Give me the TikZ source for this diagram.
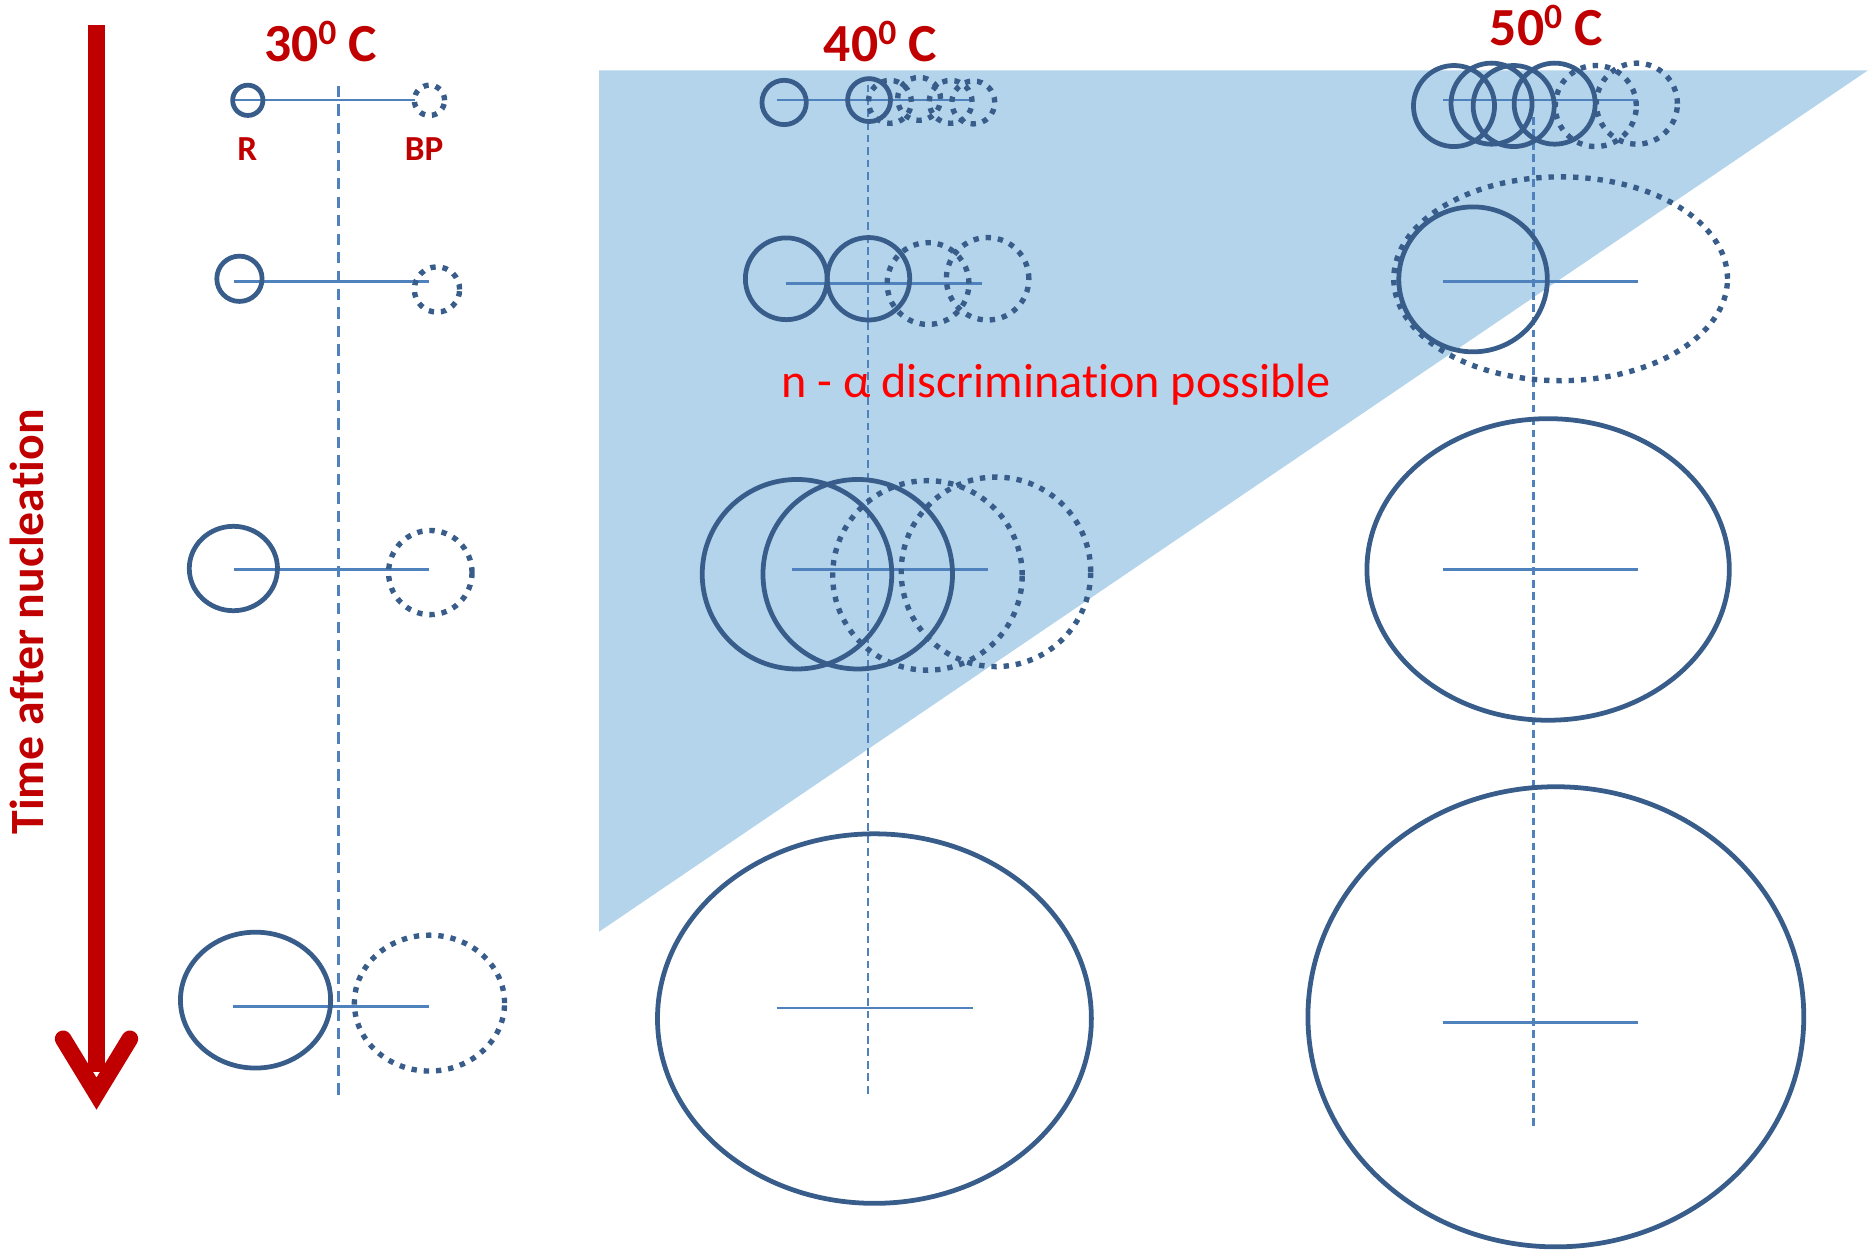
\documentclass[tikz,border=0pt]{standalone}
\usepackage{fontspec}
\setmainfont{Carlito}[Ligatures=NoCommon]
\usetikzlibrary{shapes.geometric}

\definecolor{rojotit}{RGB}{192,0,0}
\definecolor{rojotxt}{RGB}{255,0,0}
\definecolor{azulburb}{RGB}{56,93,138}
\definecolor{azuleje}{RGB}{79,129,189}
\definecolor{celeste}{RGB}{180,212,236}

\newcommand{\supcero}{\raisebox{4pt}{\fontsize{8.5}{9}\selectfont 0}}

\tikzset{
  base/.style={draw=azulburb, line width=0.04cm, inner sep=0pt},
  puntos/.style={line width=0.045cm, dash pattern=on 0.045cm off 0.058cm},
  rburb/.style={base, circle, minimum size=#1},
  bpburb/.style={rburb=#1, puntos},
  relip/.style 2 args={base, ellipse, minimum width=#1, minimum height=#2},
  bpelip/.style 2 args={relip={#1}{#2}, puntos},
  guia/.style={draw=azuleje, line width=0.022cm, dash pattern=on 0.065cm off 0.04cm},
  guia30/.style={guia, dash pattern=on 0.095cm off 0.06cm},
  eje/.style={draw=azuleje, line width=0.022cm},
  tiempo/.style={draw=rojotit, line width=0.15cm},
  tit/.style={text=rojotit, anchor=base, inner sep=0pt, font=\bfseries\fontsize{12.8}{14}\selectfont},
  etq/.style={text=rojotit, anchor=base, inner sep=0pt, font=\bfseries\fontsize{8.4}{10}\selectfont}
}

\begin{document}
\begin{tikzpicture}[x=0.01cm, y=-0.01cm]

        \useasboundingbox (0,0) rectangle (1568,1051);

        % Zona de discriminacion
        \fill[celeste] (503,59) -- (1568,59) -- (503,782) -- cycle;

        % Flecha del tiempo
        \coordinate (flecha-ini) at (81,21);
        \coordinate (flecha-fin) at (81,900);
        \coordinate (ala-i) at (53,872);
        \coordinate (punta) at (81,918);
        \coordinate (ala-d) at (109,872);
        \draw[tiempo] (flecha-ini) -- (flecha-fin);
        \draw[tiempo, line width=0.14cm, line cap=round, line join=miter] (ala-i) -- (punta) -- (ala-d);
        \node[rotate=90, anchor=base, inner sep=0pt, text=rojotit, font=\bfseries\fontsize{11.4}{13}\selectfont] (lbltiempo) at (36.4,522) {Time after nucleation};

        % Titulos
        \node[tit] (t30) at (269,51.8) {30\supcero{} C};
        \node[tit] (t40) at (739,51.8) {40\supcero{} C};
        \node[tit] (t50) at (1298,37.8) {50\supcero{} C};
        \node[etq] (lblR) at (207.6,135) {R};
        \node[etq] (lblBP) at (356,135) {BP};

        % Guias verticales
        \coordinate (g30a) at (284,72);    \coordinate (g30b) at (284,921);
        \coordinate (g40a) at (728.6,71);  \coordinate (g40b) at (728.6,921.6);
        \coordinate (g50a) at (1287,98);   \coordinate (g50b) at (1287,948);
        \draw[guia30] (g30a) -- (g30b);
        \draw[guia] (g40a) -- (g40b);
        \draw[guia] (g50a) -- (g50b);

        % Ejes horizontales 30 C
        \coordinate (e31i) at (197,84);    \coordinate (e31d) at (348,84);
        \coordinate (e32i) at (196,236.5); \coordinate (e32d) at (360,236.5);
        \coordinate (e33i) at (196,478);   \coordinate (e33d) at (360,478);
        \coordinate (e34i) at (195.5,845); \coordinate (e34d) at (360,845);
        \draw[eje] (e31i) -- (e31d);
        \draw[eje] (e32i) -- (e32d);
        \draw[eje] (e33i) -- (e33d);
        \draw[eje] (e34i) -- (e34d);

        % Ejes horizontales 40 C
        \coordinate (e41i) at (652,84);    \coordinate (e41d) at (816,84);
        \coordinate (e42i) at (660,238);   \coordinate (e42d) at (824,238);
        \coordinate (e43i) at (665,478);   \coordinate (e43d) at (829,478);
        \coordinate (e44i) at (652,846);   \coordinate (e44d) at (817,846);
        \draw[eje] (e41i) -- (e41d);
        \draw[eje] (e42i) -- (e42d);
        \draw[eje] (e43i) -- (e43d);
        \draw[eje] (e44i) -- (e44d);

        % Ejes horizontales 50 C
        \coordinate (e51i) at (1211,84);    \coordinate (e51d) at (1375,84);
        \coordinate (e52i) at (1211,236.5); \coordinate (e52d) at (1375,236.5);
        \coordinate (e53i) at (1211,478);   \coordinate (e53d) at (1375,478);
        \coordinate (e54i) at (1211,858.5); \coordinate (e54d) at (1375,858.5);
        \draw[eje] (e51i) -- (e51d);
        \draw[eje] (e52i) -- (e52d);
        \draw[eje] (e53i) -- (e53d);
        \draw[eje] (e54i) -- (e54d);

        % Burbujas 30 C
        \node[rburb=0.254cm] (r31) at (208,84.2) {};
        \node[bpburb=0.254cm] (bp31) at (360.5,84.2) {};
        \node[rburb=0.38cm] (r32) at (201,234) {};
        \node[bpburb=0.38cm] (bp32) at (366.8,243) {};
        \node[relip={0.74cm}{0.708cm}] (r33) at (195.9,477.2) {};
        \node[bpelip={0.70cm}{0.706cm}] (bp33) at (361.2,480.6) {};
        \node[relip={1.26cm}{1.14cm}] (r34) at (214.5,839.5) {};
        \node[bpelip={1.26cm}{1.14cm}] (bp34) at (360.5,842) {};

        % Burbujas 40 C
        \node[rburb=0.372cm] (r41a) at (658.2,86) {};
        \node[rburb=0.36cm] (r41b) at (729.5,84) {};
        \node[bpburb=0.36cm] (bp41a) at (747,85.5) {};
        \node[bpburb=0.36cm] (bp41b) at (771.5,83) {};
        \node[bpburb=0.36cm] (bp41c) at (798,85.5) {};
        \node[bpburb=0.36cm] (bp41d) at (817,86) {};
        \node[rburb=0.686cm] (r42a) at (660,234) {};
        \node[rburb=0.692cm] (r42b) at (729,234) {};
        \node[bpburb=0.686cm] (bp42a) at (779,238) {};
        \node[bpburb=0.692cm] (bp42b) at (829,234) {};
        \node[rburb=1.59cm] (r43a) at (669,482) {};
        \node[rburb=1.59cm] (r43b) at (720,482) {};
        \node[bpburb=1.59cm] (bp43a) at (778.5,483) {};
        \node[bpburb=1.59cm] (bp43b) at (836,480) {};
        \node[relip={3.64cm}{3.10cm}] (r44) at (734,855) {};

        % Burbujas 50 C
        \node[rburb=0.68cm] (r51a) at (1220.5,89) {};
        \node[rburb=0.68cm] (r51b) at (1252,87) {};
        \node[rburb=0.68cm] (r51c) at (1270.6,89) {};
        \node[rburb=0.68cm] (r51d) at (1305,87) {};
        \node[bpburb=0.68cm] (bp51a) at (1339.5,89) {};
        \node[bpburb=0.68cm] (bp51b) at (1374,87) {};
        \node[relip={1.246cm}{1.216cm}] (r52) at (1236.5,234.5) {};
        \node[bpelip={2.80cm}{1.71cm}] (bp52) at (1310,234) {};
        \node[relip={3.04cm}{2.53cm}] (r53) at (1299.5,478) {};
        \node[relip={4.16cm}{3.86cm}] (r54) at (1306,853.5) {};

        % Texto de la zona
        \node[anchor=base, inner sep=0pt, text=rojotxt, font=\fontsize{11.5}{13}\selectfont] (discr) at (886.5,334) {n - α discrimination possible};

    \end{tikzpicture}
\end{document}
